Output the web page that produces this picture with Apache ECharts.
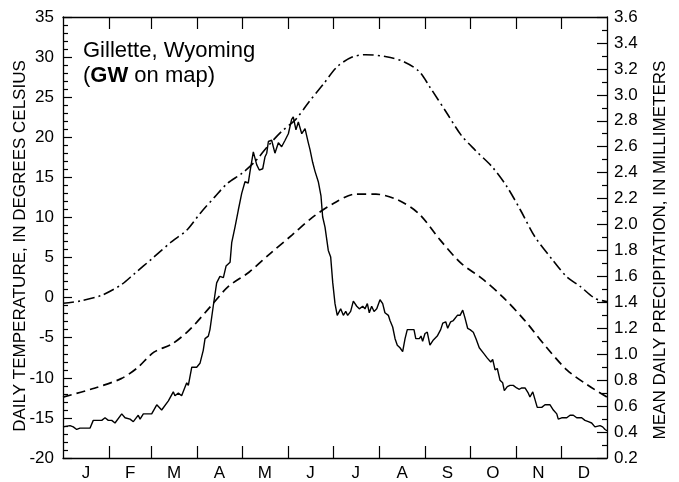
<!DOCTYPE html>
<html><head><meta charset="utf-8">
<script src="https://cdn.jsdelivr.net/npm/echarts@6/dist/echarts.min.js"></script>
<style>html,body{margin:0;padding:0;background:#fff}#c{width:679px;height:482px;background:#fff}</style>
</head><body><div id="c"></div>
<script>
// Day of year (0..365) positions of month boundaries and labels
const monthLabels = ['J','F','M','A','M','J','J','A','S','O','N','D'];
const monthStarts = [0,31,59,90,120,151,181,212,243,273,304,334,365];
const tempTicks = [-20,-15,-10,-5,0,5,10,15,20,25,30,35];
const precipTicks = [0.2,0.4,0.6,0.8,1.0,1.2,1.4,1.6,1.8,2.0,2.2,2.4,2.6,2.8,3.0,3.2,3.4,3.6];

// Mean daily maximum temperature (deg C) [day, value]  (dash-dot)
const maxTemp = [
  [0,-0.7],[12,-0.4],[26,0.3],[39,1.6],[48,3.0],[60,4.9],[73,7.0],[83,8.4],[92,10.5],
  [102,12.6],[110,14.2],[120,15.5],[129,17.0],[137,18.8],[146.5,20.7],[156,22.2],
  [165,24.4],[175,26.7],[184,28.8],[194,30.0],[203,30.3],[217,30.05],[229,29.4],
  [239,28.2],[246,26.3],[257.6,23.0],[267,20.3],[276.5,18.4],[288,16.3],[298,13.8],
  [307,10.9],[316.6,7.6],[328.5,4.7],[338,2.6],[347,1.4],[357,-0.1],[365,-0.5]
];
// Mean daily minimum temperature (deg C) [day, value]  (dashed)
const minTemp = [
  [0,-12.4],[21,-11.3],[39,-10.1],[49.6,-8.8],[61,-6.8],[73,-5.8],[85,-4.0],[99,-1.1],
  [111,1.4],[125,3.2],[139,5.5],[153.6,7.8],[168,10.1],[182,11.8],[196,12.9],[210,12.9],
  [224.5,12.2],[238.6,10.5],[253,7.2],[267,4.3],[281,2.4],[295,0.1],[309.6,-2.8],
  [324,-6.1],[338,-9.0],[352,-10.9],[365,-12.4]
];
// Mean daily precipitation (mm) [day, value]  (solid)
const precip = [
  [0,0.44],[4.7,0.45],[6.9,0.44],[9.2,0.42],[11.4,0.43],[18.1,0.43],[20.3,0.49],[26.0,0.49],
  [28.2,0.51],[30.4,0.49],[32.7,0.49],[34.9,0.47],[39.4,0.54],[41.6,0.51],[45.0,0.50],
  [47.2,0.48],[50.5,0.53],[51.7,0.50],[53.9,0.54],[59.5,0.54],[62.9,0.61],[66.2,0.57],
  [70.7,0.64],[74.0,0.71],[75.1,0.68],[77.4,0.70],[79.6,0.68],[83.0,0.78],[84.1,0.76],
  [86.4,0.90],[89.7,0.90],[91.9,0.93],[94.1,1.03],[95.3,1.12],[97.5,1.14],[98.6,1.19],
  [100.8,1.37],[103.1,1.55],[105.3,1.60],[107.6,1.59],[109.4,1.68],[112.1,1.71],[113.2,1.86],
  [115.4,1.98],[117.6,2.11],[119.9,2.24],[122.1,2.33],[124.3,2.32],[125.5,2.41],[127.7,2.56],
  [130.0,2.46],[131.7,2.42],[134.0,2.43],[135.5,2.52],[136.7,2.55],[137.8,2.64],[140.0,2.65],
  [142.2,2.55],[144.5,2.63],[146.7,2.60],[149.0,2.65],[151.2,2.70],[153.4,2.81],[154.5,2.83],
  [156.3,2.73],[157.9,2.79],[160.2,2.70],[162.4,2.74],[164.6,2.63],[165.7,2.58],[167.5,2.48],
  [169.1,2.41],[171.3,2.33],[173.1,2.22],[174.2,2.06],[175.8,1.98],[178.0,1.80],[179.6,1.75],
  [181.0,1.55],[182.5,1.39],[184.0,1.30],[186.3,1.35],[188.1,1.30],[189.7,1.33],[191.0,1.30],
  [193.0,1.33],[194.8,1.41],[197.1,1.37],[198.8,1.35],[201.1,1.37],[202.6,1.35],[204.2,1.39],
  [205.5,1.32],[207.1,1.37],[208.7,1.33],[210.5,1.35],[212.7,1.42],[214.5,1.39],[216.0,1.32],
  [218.3,1.30],[219.4,1.26],[221.2,1.21],[222.8,1.12],[224.3,1.07],[226.1,1.05],[227.9,1.02],
  [229.5,1.12],[231.0,1.19],[232.8,1.19],[235.5,1.19],[236.7,1.12],[239.1,1.12],[240.2,1.14],
  [241.3,1.10],[242.9,1.16],[244.4,1.17],[246.2,1.07],[248.5,1.11],[251.1,1.14],[253.4,1.19],
  [254.8,1.24],[256.8,1.25],[258.1,1.20],[260.1,1.25],[261.9,1.26],[263.0,1.25],[264.6,1.30],
  [266.4,1.30],[268.2,1.34],[269.7,1.28],[271.5,1.20],[273.1,1.19],[275.3,1.17],[277.1,1.12],
  [279.3,1.05],[282.0,1.01],[284.7,0.97],[287.0,0.94],[288.3,0.96],[289.9,0.88],[291.4,0.89],
  [293.2,0.80],[295.0,0.78],[296.1,0.72],[298.1,0.75],[299.9,0.76],[302.1,0.76],[304.4,0.74],
  [306.2,0.73],[307.8,0.74],[310.0,0.74],[312.2,0.70],[313.3,0.67],[315.2,0.71],[316.7,0.65],
  [318.2,0.59],[321.2,0.59],[323.4,0.61],[326.8,0.61],[329.0,0.57],[331.3,0.54],[332.3,0.50],
  [334.6,0.51],[338.0,0.51],[340.2,0.53],[342.4,0.53],[344.7,0.51],[348.0,0.51],[350.2,0.49],
  [352.5,0.48],[354.7,0.47],[356.9,0.44],[358.1,0.45],[360.3,0.45],[362.1,0.44],[363.7,0.42],
  [365,0.41]
];

const X_MIN = monthStarts[0], X_MAX = monthStarts[monthStarts.length - 1];
const T_MIN = tempTicks[0], T_MAX = tempTicks[tempTicks.length - 1];
const P_MIN = precipTicks[0], P_MAX = precipTicks[precipTicks.length - 1];
const monthMids = monthLabels.map((_, i) => (monthStarts[i] + monthStarts[i + 1]) / 2);
const innerBounds = monthStarts.slice(1, -1);

// Tick positions (axis values) for the fallback tick drawing
const tempTickVals = [];
tempTicks.forEach((t, i) => {
  tempTickVals.push([t, 1]);
  if (i < tempTicks.length - 1) for (let k = 1; k < 5; k++) tempTickVals.push([t + k, 0]);
});
const precipTickVals = [];
precipTicks.forEach((p, i) => {
  precipTickVals.push([Math.round(p * 10) / 10, 1]);
  if (i < precipTicks.length - 1) precipTickVals.push([Math.round((p + 0.1) * 10) / 10, 0]);
});

const FONT = '"Liberation Sans", Arial, Helvetica, sans-serif';

function buildOption(v) {
  const ff = v.font ? {fontFamily: FONT} : {};
  const axLine = () => ({color: '#000', width: 1.3});
  const tk = (len) => v.custom ? {show: false} : {show: true, inside: true, length: len, lineStyle: {color: '#000', width: 1.2}};
  const mtk = (n) => v.custom ? {show: false} : {show: true, splitNumber: n, length: 5, lineStyle: {color: '#000', width: 1.2}};
  const tickStyle = () => ({stroke: '#000', lineWidth: 1.2, fill: null});
  const opt = {
    animation: false,
    grid: {left: 63, right: 72, top: 17, bottom: 24},
    xAxis: [
      {
        type: 'value', min: X_MIN, max: X_MAX, position: 'bottom',
        splitLine: {show: false},
        axisLine: {show: true, onZero: false, lineStyle: axLine()},
        axisTick: Object.assign(tk(12), v.custom ? {} : {customValues: innerBounds}),
        axisLabel: Object.assign({
          show: true, customValues: monthMids, margin: 7, color: '#000', fontSize: 17,
          formatter: function (val) {
            let best = 0;
            for (let i = 0; i < monthMids.length; i++) {
              if (Math.abs(monthMids[i] - val) < Math.abs(monthMids[best] - val)) best = i;
            }
            return monthLabels[best];
          }
        }, ff)
      },
      {
        type: 'value', min: X_MIN, max: X_MAX, position: 'top',
        splitLine: {show: false},
        axisLine: {show: true, onZero: false, lineStyle: axLine()},
        axisTick: Object.assign(tk(12), v.custom ? {} : {customValues: innerBounds}),
        axisLabel: {show: false}
      }
    ],
    yAxis: [
      {
        type: 'value', min: T_MIN, max: T_MAX, interval: 5, position: 'left',
        splitLine: {show: false},
        axisLine: {show: true, onZero: false, lineStyle: axLine()},
        axisTick: tk(9), minorTick: mtk(5),
        axisLabel: Object.assign({color: '#000', fontSize: 17, margin: 9}, ff)
      },
      {
        type: 'value', min: P_MIN, max: P_MAX, interval: 0.2, position: 'right',
        splitLine: {show: false},
        axisLine: {show: true, onZero: false, lineStyle: axLine()},
        axisTick: tk(10), minorTick: mtk(2),
        axisLabel: Object.assign({color: '#000', fontSize: 17, margin: 7, formatter: val => Number(val).toFixed(1)}, ff)
      }
    ],
    series: [
      {
        name: 'Max temp', type: 'line', xAxisIndex: 0, yAxisIndex: 0, data: maxTemp,
        showSymbol: false, smooth: 0.3, silent: true,
        lineStyle: {color: '#000', width: 1.6, type: [11, 4, 2, 4]}
      },
      {
        name: 'Min temp', type: 'line', xAxisIndex: 0, yAxisIndex: 0, data: minTemp,
        showSymbol: false, smooth: 0.3, silent: true,
        lineStyle: {color: '#000', width: 1.7, type: [9, 5]}
      },
      {
        name: 'Precipitation', type: 'line', xAxisIndex: 0, yAxisIndex: 1, data: precip,
        showSymbol: false, smooth: false, silent: true,
        lineStyle: {color: '#000', width: 1.4}
      }
    ]
  };
  if (v.custom) {
    opt.series.push(
      {
        name: 'monthTicks', type: 'custom', xAxisIndex: 0, yAxisIndex: 0, silent: true, clip: false, z: 5,
        data: innerBounds.map(d => [d, T_MIN]),
        renderItem: function (params, api) {
          const d = api.value(0);
          const pb = api.coord([d, T_MIN]);
          const pt = api.coord([d, T_MAX]);
          return {type: 'group', children: [
            {type: 'line', shape: {x1: pb[0], y1: pb[1], x2: pb[0], y2: pb[1] - 12}, style: tickStyle()},
            {type: 'line', shape: {x1: pt[0], y1: pt[1], x2: pt[0], y2: pt[1] + 12}, style: tickStyle()}
          ]};
        }
      },
      {
        name: 'tempTicks', type: 'custom', xAxisIndex: 0, yAxisIndex: 0, silent: true, clip: false, z: 5,
        data: tempTickVals.map(d => [X_MIN, d[0], d[1]]),
        renderItem: function (params, api) {
          const p = api.coord([X_MIN, api.value(1)]);
          const len = api.value(2) ? 9 : 5;
          return {type: 'line', shape: {x1: p[0], y1: p[1], x2: p[0] + len, y2: p[1]}, style: tickStyle()};
        }
      },
      {
        name: 'precipTicks', type: 'custom', xAxisIndex: 0, yAxisIndex: 1, silent: true, clip: false, z: 5,
        data: precipTickVals.map(d => [X_MAX, d[0], d[1]]),
        renderItem: function (params, api) {
          const p = api.coord([X_MAX, api.value(1)]);
          const len = api.value(2) ? 10 : 5;
          return {type: 'line', shape: {x1: p[0], y1: p[1], x2: p[0] - len, y2: p[1]}, style: tickStyle()};
        }
      }
    );
  }
  if (v.bg) opt.backgroundColor = '#fff';
  if (v.graphic) {
    opt.graphic = [
      {type: 'text', x: 83, y: 51,
       style: {text: 'Gillette, Wyoming', fill: '#000', font: '22px ' + FONT, verticalAlign: 'middle', align: 'left'}},
      {type: 'text', x: 83, y: 76,
       style: {text: '({b|GW} on map)', fill: '#000', font: '22px ' + FONT, verticalAlign: 'middle', align: 'left',
               rich: {b: {fontWeight: 'bold', fontSize: 22, fontFamily: FONT, fill: '#000'}}}},
      {type: 'text', x: 20, y: 246, rotation: Math.PI / 2,
       style: {text: 'DAILY TEMPERATURE, IN DEGREES CELSIUS', fill: '#000', font: '17px ' + FONT, align: 'center', verticalAlign: 'middle'}},
      {type: 'text', x: 660, y: 250, rotation: Math.PI / 2,
       style: {text: 'MEAN DAILY PRECIPITATION, IN MILLIMETERS', fill: '#000', font: '17px ' + FONT, align: 'center', verticalAlign: 'middle'}}
    ];
  } else {
    opt.title = {
      text: 'Gillette, Wyoming\n({b|GW} on map)', left: 83, top: 39, padding: 0,
      textStyle: Object.assign({color: '#000', fontSize: 22, fontWeight: 'normal', lineHeight: 25,
        rich: {b: Object.assign({color: '#000', fontSize: 22, fontWeight: 'bold', lineHeight: 25}, ff)}}, ff)
    };
    Object.assign(opt.yAxis[0], {name: 'DAILY TEMPERATURE, IN DEGREES CELSIUS', nameLocation: 'middle', nameRotate: 90, nameGap: 35,
      nameTextStyle: Object.assign({color: '#000', fontSize: 17}, ff)});
    Object.assign(opt.yAxis[1], {name: 'MEAN DAILY PRECIPITATION, IN MILLIMETERS', nameLocation: 'middle', nameRotate: 90, nameGap: 44,
      nameTextStyle: Object.assign({color: '#000', fontSize: 17}, ff)});
  }
  return opt;
}

const dom = document.getElementById('c');
let chart = null;
function render(v) {
  if (chart) chart.dispose();
  chart = echarts.init(dom, null, {renderer: 'canvas'});
  chart.setOption(buildOption(v));
  try { chart.getZr().refreshImmediately(); } catch (e) {}
}
function hasDark(x0, y0, w, h) {
  const cv = dom.querySelector('canvas');
  if (!cv) return false;
  const dpr = cv.width / (cv.clientWidth || 679);
  const d = cv.getContext('2d').getImageData(Math.round(x0 * dpr), Math.round(y0 * dpr), Math.max(1, Math.round(w * dpr)), Math.max(1, Math.round(h * dpr))).data;
  for (let i = 0; i < d.length; i += 4) if (d[i + 3] > 100 && d[i] < 150) return true;
  return false;
}
function ticksVisible() {
  try {
    // left major tick at 30 degC, and top month tick at end of January
    return hasDark(65, 54, 6, 6) && hasDark(106, 20, 7, 6);
  } catch (e) { return false; }
}
const attempts = [
  {bg: 1, graphic: 1, font: 1, custom: 0},
  {bg: 0, graphic: 1, font: 1, custom: 0},
  {bg: 0, graphic: 0, font: 1, custom: 0},
  {bg: 0, graphic: 0, font: 0, custom: 0},
  {bg: 0, graphic: 1, font: 1, custom: 1},
  {bg: 0, graphic: 0, font: 0, custom: 1}
];
let ok = false;
for (const a of attempts) {
  render(a);
  if (ticksVisible()) { ok = true; break; }
}
if (!ok) render(attempts[1]);
</script>
</body></html>
